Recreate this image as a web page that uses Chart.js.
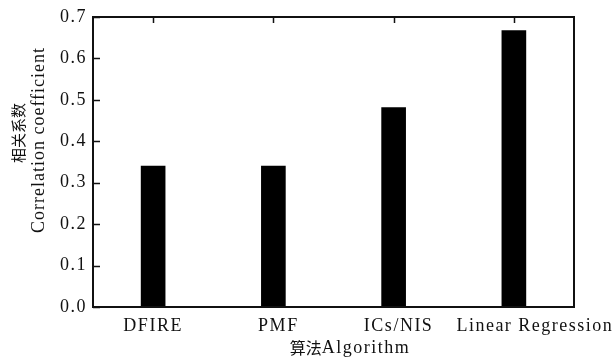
<!DOCTYPE html>
<html>
<head>
<meta charset="utf-8">
<script src="https://cdn.jsdelivr.net/npm/chart.js@4"></script>
<style>
  body { margin: 0; background: #fff; }
</style>
</head>
<body>
<canvas id="corrChart" width="616" height="359"></canvas>
<script>
// Correlation coefficient per algorithm
const algorithms = ['DFIRE', 'PMF', 'ICs/NIS', 'Linear Regression'];
const correlation = [0.341, 0.341, 0.482, 0.668];
const yTickValues = [0, 0.1, 0.2, 0.3, 0.4, 0.5, 0.6, 0.7];

const serif = '"Liberation Serif", "Times New Roman", serif';
const cjk = '"Noto Sans CJK SC", sans-serif';
const labelShift = [0, 5, 5, 21]; // x labels sit a bit right of the bars in the original

// box, inward ticks, x labels and axis titles
const decor = {
  id: 'decor',
  beforeDraw(chart) {
    chart.ctx.letterSpacing = '1.5px';
  },
  afterDatasetsDraw(chart) {
    const { ctx, chartArea: a, scales: { x, y } } = chart;
    ctx.save();
    ctx.strokeStyle = '#111';
    ctx.lineWidth = 2;
    ctx.strokeRect(a.left, a.top, a.right - a.left, a.bottom - a.top);

    ctx.lineWidth = 1.5;
    ctx.beginPath();
    yTickValues.forEach(v => {
      const py = Math.round(y.getPixelForValue(v)) + 0.5;
      ctx.moveTo(a.left, py);
      ctx.lineTo(a.left + 7, py);
    });
    algorithms.forEach((c, i) => {
      const px = Math.round(x.getPixelForValue(i)) + 0.5;
      ctx.moveTo(px, a.top);
      ctx.lineTo(px, a.top + 6);
    });
    ctx.stroke();

    ctx.fillStyle = '#111';
    ctx.textBaseline = 'middle';
    ctx.textAlign = 'center';
    ctx.font = '18px ' + serif;
    ctx.letterSpacing = '1.5px';
    algorithms.forEach((c, i) => {
      ctx.fillText(c, x.getPixelForValue(i) + labelShift[i], a.bottom + 19);
    });

    // x title: CJK part + latin part
    ctx.textAlign = 'left';
    ctx.font = '16px ' + cjk;
    ctx.letterSpacing = '0px';
    const zh = '算法';
    const zhW = ctx.measureText(zh).width;
    ctx.font = '18px ' + serif;
    ctx.letterSpacing = '1.5px';
    const en = 'Algorithm';
    const enW = ctx.measureText(en).width;
    const startX = 350 - (zhW + enW) / 2;
    ctx.font = '16px ' + cjk;
    ctx.letterSpacing = '0px';
    ctx.fillText(zh, startX, 348);
    ctx.font = '18px ' + serif;
    ctx.letterSpacing = '1.5px';
    ctx.fillText(en, startX + zhW, 348);

    // y title, two rotated lines
    ctx.save();
    ctx.translate(18, 133);
    ctx.rotate(-Math.PI / 2);
    ctx.textAlign = 'center';
    ctx.font = '15px ' + cjk;
    ctx.letterSpacing = '0px';
    ctx.fillText('相关系数', 0, 0);
    ctx.restore();

    ctx.save();
    ctx.translate(39, 140);
    ctx.rotate(-Math.PI / 2);
    ctx.textAlign = 'center';
    ctx.font = '18px ' + serif;
    ctx.letterSpacing = '1px';
    ctx.fillText('Correlation coefficient', 0, 0);
    ctx.restore();

    ctx.restore();
  }
};

const ctx = document.getElementById('corrChart').getContext('2d');

const corrChart = new Chart(ctx, {
  type: 'bar',
  data: {
    labels: algorithms,
    datasets: [{
      data: correlation,
      backgroundColor: '#000',
      borderWidth: 0,
      barPercentage: 0.205,
      categoryPercentage: 1
    }]
  },
  options: {
    responsive: false,
    animation: false,
    layout: { padding: { top: 17, right: 42, bottom: 0, left: 0 } },
    plugins: {
      legend: { display: false },
      tooltip: { enabled: false }
    },
    scales: {
      x: {
        grid: { display: false },
        border: { display: false },
        ticks: { display: false },
        afterFit(scale) { scale.height = 52; }
      },
      y: {
        min: 0,
        max: 0.7,
        grid: { display: false, drawTicks: false },
        border: { display: false },
        afterBuildTicks(scale) {
          scale.ticks = yTickValues.map(v => ({ value: v }));
        },
        ticks: {
          color: '#111',
          padding: 6,
          font: { family: serif, size: 18 },
          callback: v => Number(v).toFixed(1)
        },
        afterFit(scale) { scale.width = 93; }
      }
    }
  },
  plugins: [decor]
});
</script>
</body>
</html>
